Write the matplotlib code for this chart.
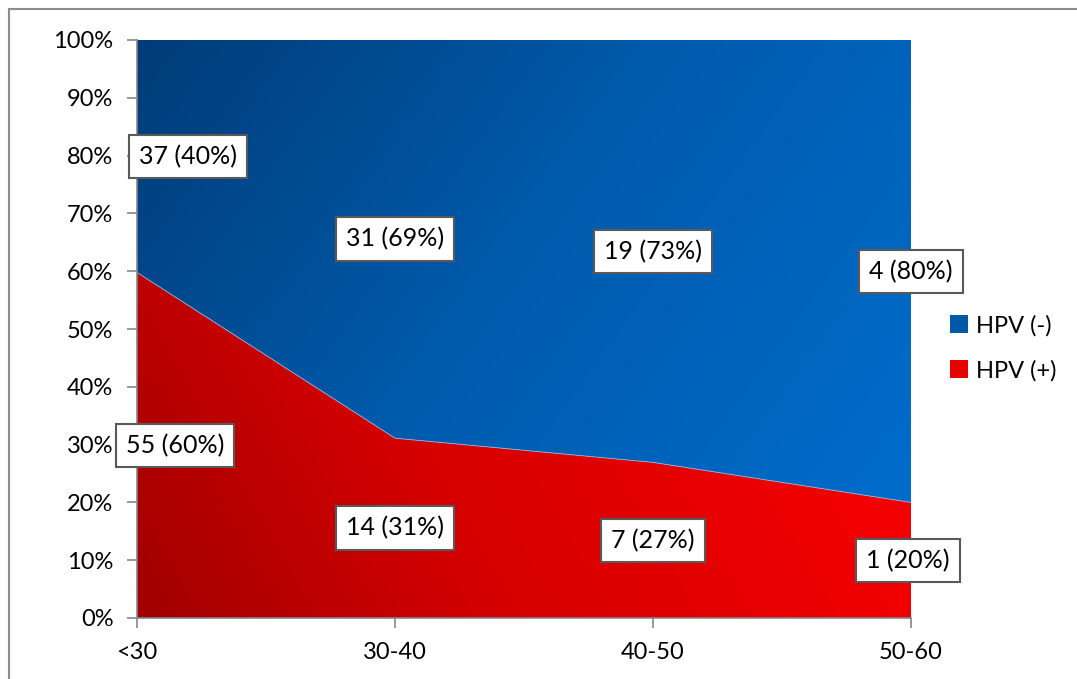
import numpy as np
import matplotlib.pyplot as plt
from matplotlib.colors import LinearSegmentedColormap
from matplotlib.patches import Patch, Rectangle

plt.rcParams['font.family'] = ['Lato', 'DejaVu Sans']

# data
ages = ['<30', '30-40', '40-50', '50-60']
hpv_pos = [55, 14, 7, 1]
hpv_neg = [37, 31, 19, 4]

pos = np.array(hpv_pos, dtype=float)
neg = np.array(hpv_neg, dtype=float)
tot = pos + neg
pos_frac = pos / tot
neg_frac = neg / tot
x = np.arange(len(ages))

fig = plt.figure(figsize=(10.77, 6.79), dpi=100)
ax = fig.add_axes([137/1077, 1 - 618/679, (911-137)/1077, (618-40)/679])

# outer chart frame
fig.patches.append(Rectangle((9/1077, -0.05), 1.1, 1 - 9/679 + 0.05,
                             transform=fig.transFigure, fill=False,
                             edgecolor='#8c8c8c', linewidth=1.5))

red_cmap = LinearSegmentedColormap.from_list(
    'r', [(0, '#a00000'), (0.35, '#d20000'), (1, '#ff0000')])
blue_cmap = LinearSegmentedColormap.from_list('b', ['#003c78', '#005cae', '#006ccb'])

gx, gy = np.meshgrid(np.linspace(0, 1, 300), np.linspace(0, 1, 200))
red_grad = np.clip(0.8 * gx + 0.2 * gy / 0.6, 0, 1)
blue_grad = 0.7 * gx + 0.3 * (1 - gy) / 0.8

red_fill = ax.fill_between(x, 0, pos_frac, facecolor='none', edgecolor='none')
blue_fill = ax.fill_between(x, pos_frac, 1, facecolor='none', edgecolor='none')

ext = [x[0], x[-1], 0, 1]
im_r = ax.imshow(red_grad, cmap=red_cmap, extent=ext, origin='lower',
                 aspect='auto', vmin=0, vmax=1, zorder=1)
im_r.set_clip_path(red_fill.get_paths()[0], transform=ax.transData)
im_b = ax.imshow(blue_grad, cmap=blue_cmap, extent=ext, origin='lower',
                 aspect='auto', vmin=0, vmax=1, zorder=1)
im_b.set_clip_path(blue_fill.get_paths()[0], transform=ax.transData)
ax.plot(x, pos_frac, color='#8fb4e0', linewidth=0.6, zorder=2)

ax.set_xlim(x[0], x[-1])
ax.set_ylim(0, 1)
ax.set_xticks(x)
ax.set_xticklabels(ages, fontsize=17)
ax.set_yticks(np.linspace(0, 1, 11))
ax.set_yticklabels([f'{v}%' for v in range(0, 101, 10)], fontsize=17)
ax.tick_params(axis='both', color='#868686', length=7, width=1.2)
ax.tick_params(axis='y', pad=10)
ax.tick_params(axis='x', pad=10)
for s in ['top', 'right']:
    ax.spines[s].set_visible(False)
for s in ['left', 'bottom']:
    ax.spines[s].set_color('#868686')
    ax.spines[s].set_linewidth(1.2)

box = dict(boxstyle='square,pad=0.4', facecolor='white', edgecolor='#595959', linewidth=1.5)
shift = [(51, 38), (0, 0), (0, 0), (0, -3)]
for i in range(len(ages)):
    pct_n = round(neg_frac[i] * 100)
    pct_p = round(pos_frac[i] * 100)
    ax.annotate(f'{hpv_neg[i]} ({pct_n}%)', (x[i], pos_frac[i] + neg_frac[i] / 2),
                xytext=(shift[i][0], 0), textcoords='offset pixels',
                ha='center', va='center', fontsize=18, bbox=box, zorder=5,
                annotation_clip=False)
    ax.annotate(f'{hpv_pos[i]} ({pct_p}%)', (x[i], pos_frac[i] / 2),
                xytext=(shift[i][1], 0), textcoords='offset pixels',
                ha='center', va='center', fontsize=18, bbox=box, zorder=5,
                annotation_clip=False)

handles = [Patch(facecolor='#0058a8', label='HPV (-)'),
           Patch(facecolor='#e80000', label='HPV (+)')]
fig.legend(handles=handles, loc='center left', bbox_to_anchor=(950/1077, 1 - 348/679),
           frameon=False, fontsize=17, handlelength=0.75, handleheight=0.75,
           handletextpad=0.35, labelspacing=1.0, borderpad=0, borderaxespad=0)

fig.savefig('out.png', dpi=100)
